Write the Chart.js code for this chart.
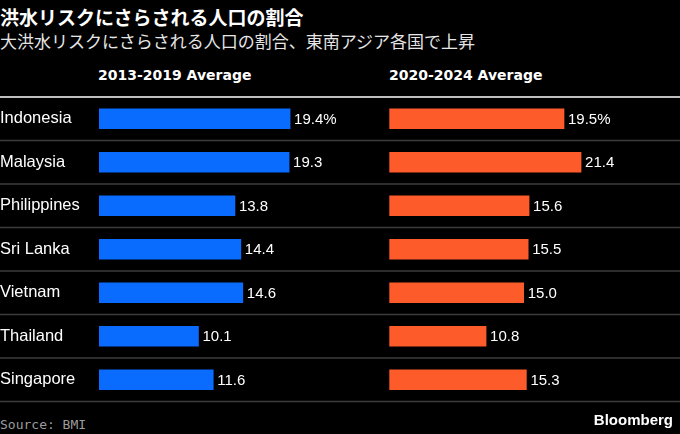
<!DOCTYPE html>
<html>
<head>
<meta charset="utf-8">
<script src="https://cdn.jsdelivr.net/npm/chart.js@4.4.1/dist/chart.umd.min.js"></script>
<style>
  html, body { margin: 0; padding: 0; background: #000; }
  body { width: 680px; height: 434px; position: relative; overflow: hidden; }
  .txt { position: absolute; white-space: nowrap; line-height: 1; color: #fff; }
  #title { left: 0; top: 3px; font: bold 19px "Noto Sans CJK JP", sans-serif; }
  #subtitle { left: 0; top: 28px; font: 17px "Noto Sans CJK JP", sans-serif; color: #e6e6e6; }
  .head { top: 67px; font: bold 14px "DejaVu Sans", sans-serif; }
  #source { left: 0; top: 417px; font: 13px "DejaVu Sans Mono", monospace; color: #9c9c9c; }
  #brand { right: 7px; top: 411px; font: bold 15px "Liberation Sans", Arial, sans-serif; }
  .box { position: absolute; top: 87px; height: 325px; }
</style>
</head>
<body>
<div class="txt" id="title">洪水リスクにさらされる人口の割合</div>
<div class="txt" id="subtitle">大洪水リスクにさらされる人口の割合、東南アジア各国で上昇</div>
<div class="txt head" style="left:98px">2013-2019 Average</div>
<div class="txt head" style="left:389px">2020-2024 Average</div>
<div class="box" style="left:0; width:360px"><canvas id="chartLeft"></canvas></div>
<div class="box" style="left:360px; width:320px"><canvas id="chartRight"></canvas></div>
<div class="txt" id="source">Source: BMI</div>
<div class="txt" id="brand">Bloomberg</div>
<script>
// flood-risk share of population, %
const countries = ['Indonesia', 'Malaysia', 'Philippines', 'Sri Lanka', 'Vietnam', 'Thailand', 'Singapore'];
const avg2013to2019 = [19.4, 19.3, 13.8, 14.4, 14.6, 10.1, 11.6];
const avg2020to2024 = [19.5, 21.4, 15.6, 15.5, 15.0, 10.8, 15.3];

// row separators across the whole canvas width
const separators = {
  id: 'separators',
  beforeDatasetsDraw(chart) {
    const ctx = chart.ctx;
    const y = chart.scales.y;
    const area = chart.chartArea;
    const w = chart.width;
    ctx.save();
    ctx.strokeStyle = '#3d3d3d';
    ctx.lineWidth = 1.5;
    for (let i = 1; i < countries.length; i++) {
      const yy = (y.getPixelForValue(i - 1) + y.getPixelForValue(i)) / 2;
      ctx.beginPath();
      ctx.moveTo(0, yy);
      ctx.lineTo(w, yy);
      ctx.stroke();
    }
    ctx.beginPath();
    ctx.moveTo(0, area.bottom);
    ctx.lineTo(w, area.bottom);
    ctx.stroke();
    ctx.strokeStyle = '#ffffff';
    ctx.beginPath();
    ctx.moveTo(0, area.top);
    ctx.lineTo(w, area.top);
    ctx.stroke();
    ctx.restore();
  }
};

// value at the end of each bar, % on the first row only
const valueLabels = {
  id: 'valueLabels',
  afterDatasetsDraw(chart) {
    const ctx = chart.ctx;
    const meta = chart.getDatasetMeta(0);
    const vals = chart.data.datasets[0].data;
    ctx.save();
    ctx.fillStyle = '#ffffff';
    ctx.font = '15px "Liberation Sans", Arial, sans-serif';
    ctx.textBaseline = 'middle';
    ctx.textAlign = 'left';
    meta.data.forEach(function (bar, i) {
      let t = vals[i].toFixed(1);
      if (i == 0) t += '%';
      ctx.fillText(t, bar.x + 4, bar.y + 1);
    });
    ctx.restore();
  }
};

function makeChart(id, values, color, showLabels, pad) {
  const yAxis = {
    display: showLabels,
    grid: { display: false },
    border: { display: false },
    ticks: {
      color: '#ffffff',
      crossAlign: 'far',
      padding: 0,
      font: { family: '"Liberation Sans", Arial, sans-serif', size: 16.5 }
    }
  };
  if (showLabels) {
    yAxis.afterFit = function (scale) { scale.width = 99; };
  }
  return new Chart(document.getElementById(id), {
    type: 'bar',
    data: {
      labels: countries,
      datasets: [{
        data: values,
        backgroundColor: color,
        borderWidth: 0,
        barThickness: 20
      }]
    },
    options: {
      indexAxis: 'y',
      responsive: true,
      maintainAspectRatio: false,
      animation: false,
      layout: { padding: pad },
      plugins: {
        legend: { display: false },
        tooltip: { enabled: false }
      },
      scales: {
        x: { display: false, min: 0, max: 25 },
        y: yAxis
      }
    },
    plugins: [separators, valueLabels]
  });
}

const chartLeft = makeChart('chartLeft', avg2013to2019, '#0a6bff', true,
  { left: 0, right: 14.75, top: 10, bottom: 10.5 });
const chartRight = makeChart('chartRight', avg2020to2024, '#fd5b2a', false,
  { left: 29.3, right: 66.7, top: 10, bottom: 10.5 });
</script>
</body>
</html>
